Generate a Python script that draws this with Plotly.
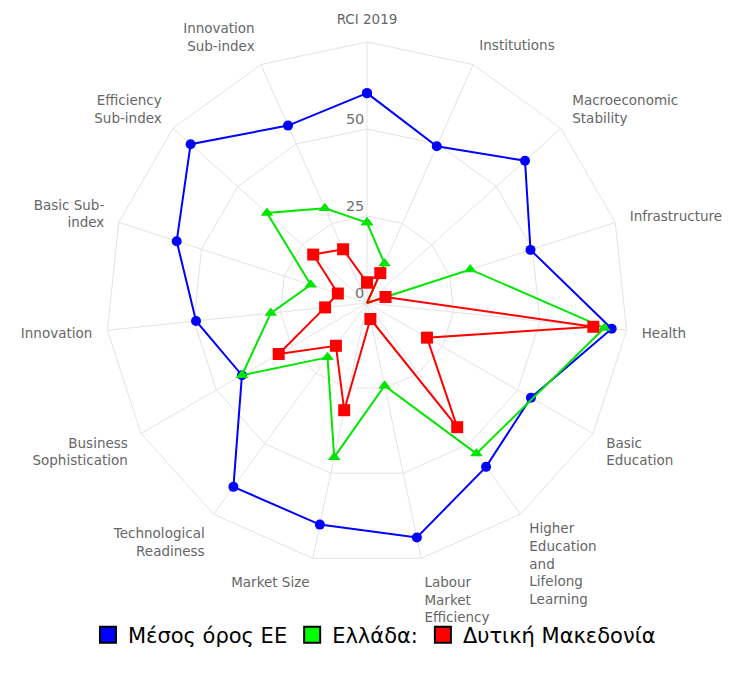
import plotly.graph_objects as go

# Pillars of the Regional Competitiveness Index, clockwise from the top
categories = [
    "RCI 2019",
    "Institutions",
    "Macroeconomic<br>Stability",
    "Infrastructure",
    "Health",
    "Basic<br>Education",
    "Higher<br>Education<br>and<br>Lifelong<br>Learning",
    "Labour<br>Market<br>Efficiency",
    "Market Size",
    "Technological<br>Readiness",
    "Business<br>Sophistication",
    "Innovation",
    "Basic Sub-<br>index",
    "Efficiency<br>Sub-index",
    "Innovation<br>Sub-index",
]

# Scores (0-100 scale) per pillar
eu_average = [60.3, 49.3, 61.1, 49.4, 70.7, 54.4, 58.2, 68.9, 65.1, 65.3, 41.5, 49.4, 57.5, 68.2, 55.8]
greece = [23.1, 12.4, 0.0, 31.2, 68.6, None, 53.5, 24.3, 45.3, 19.3, 41.5, 27.8, 17.0, 38.7, 29.8]
west_macedonia = [5.9, 9.4, 0.0, 5.6, 65.4, 19.9, 44.1, 4.7, 31.5, 15.2, 29.3, 12.1, 8.8, 20.8, 16.9]

series_names = ["Μέσος όρος ΕΕ", "Ελλάδα:", "Δυτική Μακεδονία"]
line_colors = ["#0000FF", "#00E600", "#FF0000"]
legend_colors = ["#0000FF", "#00FF00", "#FF0000"]
symbols = ["circle", "triangle-up", "square"]
sizes = [10, 11, 12]

radial_ticks = [0, 25, 50]
radial_max = 75


def closed(values):
    return list(values) + [values[0]]


fig = go.Figure()

for name, vals, col, sym, sz in zip(series_names, [eu_average, greece, west_macedonia],
                                    line_colors, symbols, sizes):
    fig.add_trace(go.Scatterpolar(
        r=closed(vals),
        theta=closed(categories),
        mode="lines+markers",
        name=name,
        connectgaps=True,
        showlegend=False,
        line=dict(color=col, width=2),
        marker=dict(symbol=sym, size=sz, color=col),
        hoverinfo="skip",
    ))

# legend entries: coloured boxes with a dark outline
for name, col in zip(series_names, legend_colors):
    fig.add_trace(go.Scatterpolar(
        r=[None], theta=[categories[0]],
        mode="markers",
        name=name,
        showlegend=True,
        marker=dict(symbol="square", size=16, color=col,
                    line=dict(color="#000000", width=2)),
    ))

fig.update_layout(
    width=733,
    height=677,
    margin=dict(l=0, r=0, t=0, b=0),
    paper_bgcolor="white",
    plot_bgcolor="white",
    font=dict(family="DejaVu Sans", color="#666666"),
    showlegend=True,
    polar=dict(
        domain=dict(x=[106 / 733, 628 / 733], y=[113 / 677, 635 / 677]),
        bgcolor="white",
        gridshape="linear",
        radialaxis=dict(
            range=[0, radial_max],
            tickvals=radial_ticks,
            # trailing blank line lifts each label just above its ring
            ticktext=[f"{v}<br> " for v in radial_ticks],
            angle=90,
            side="counterclockwise",
            tickangle=90,
            showline=False,
            ticks="",
            gridcolor="#E3E3E3",
            gridwidth=1,
            tickfont=dict(size=14.5, color="#707070"),
        ),
        angularaxis=dict(
            direction="clockwise",
            rotation=90,
            gridcolor="#E3E3E3",
            linecolor="#E3E3E3",
            linewidth=1,
            ticks="outside",
            ticklen=12,
            tickcolor="rgba(0,0,0,0)",
            tickfont=dict(size=13.5, color="#666666"),
        ),
    ),
    legend=dict(
        orientation="h",
        x=0.12,
        y=0.092,
        xanchor="left",
        yanchor="top",
        font=dict(family="DejaVu Sans", size=21, color="#000000"),
        itemsizing="trace",
        bgcolor="rgba(0,0,0,0)",
    ),
)

fig.write_html("out.html")
